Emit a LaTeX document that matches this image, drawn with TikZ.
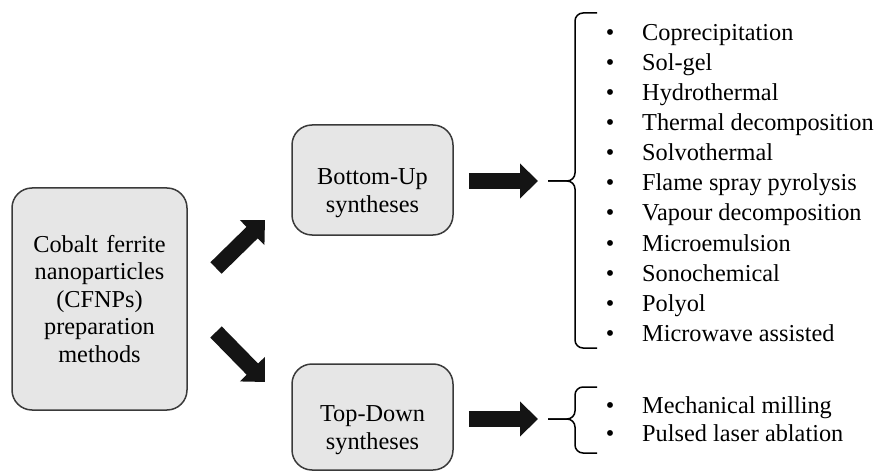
\documentclass[tikz,border=0pt]{standalone}
\usepackage{fontspec}
\setmainfont{Liberation Serif}
\usetikzlibrary{arrows.meta, positioning}
\definecolor{boxfill}{HTML}{E6E6E6}
\definecolor{boxline}{HTML}{3A3A3A}
\tikzset{
box/.style={draw=boxline, fill=boxfill, line width=1.5pt, rounded corners=20pt, align=center, inner sep=0pt}, % the grey method boxes
lowtext/.style={execute at begin node={\rule{0pt}{42pt}}}, % sets the text a bit below the middle of the box
blockarrow/.style={line width=16pt, color=black!92, -{Triangle[length=18pt, width=34pt]}}, % the thick black arrows
brace/.style={line width=1.5pt, rounded corners=8pt}, % the square braces in front of the lists
item/.style={anchor=base west, inner sep=0pt}, % a list entry
dot/.style={anchor=base, inner sep=0pt}, % the bullet of a list entry
}

\begin{document}
\begin{tikzpicture}[x=1pt, y=-1pt]
\fontsize{24.3}{27.5}\selectfont
\useasboundingbox (0,0) rectangle (883,473);

\node[box, minimum width=175pt, minimum height=222pt, text width=170pt] at (99.5,299) (cfnp) {Cobalt ferrite\\nanoparticles\\(CFNPs)\\preparation\\methods};
\node[box, lowtext, minimum width=161pt, minimum height=110pt, text width=155pt] at (372.5,180) (bu) {Bottom-Up\\syntheses};
\node[box, lowtext, minimum width=161pt, minimum height=106pt, text width=155pt] at (372.5,417) (td) {Top-Down\\syntheses};

% the two arrows leaving the left box
\coordinate (up0) at (216,268);
\coordinate (up1) at (265,220);
\coordinate (down0) at (216,332);
\coordinate (down1) at (265,382);
\draw[blockarrow] (up0) -- (up1);
\draw[blockarrow] (down0) -- (down1);

% braces
\coordinate (bubrace) at (548,181);
\coordinate (tdbrace) at (548,419);
\draw[brace] (597,13) -| (575,181) -- (bubrace);
\draw[brace] (597,348) -| (575,181) -- (bubrace);
\draw[brace] (597,387) -| (575,419) -- (tdbrace);
\draw[brace] (597,453) -| (575,419) -- (tdbrace);

\draw[blockarrow, shorten <=15pt, shorten >=10pt] (bu.east |- bubrace) -- (bubrace);
\draw[blockarrow, shorten <=15pt, shorten >=10pt] (td.east |- tdbrace) -- (tdbrace);

% bottom-up methods
\foreach \t [count=\i] in {Coprecipitation, Sol-gel, Hydrothermal, Thermal decomposition, Solvothermal, Flame spray pyrolysis, Vapour decomposition, Microemulsion, Sonochemical, Polyol, Microwave assisted}
{
\node[dot] at (610, 11+30*\i) (budot\i) {•};
\node[item] at (642, 11+30*\i) (bu\i) {\t};
}

% top-down methods
\foreach \t [count=\i] in {Mechanical milling, Pulsed laser ablation}
{
\node[dot] at (610, 385+28*\i) (tddot\i) {•};
\node[item] at (642, 385+28*\i) (td\i) {\t};
}

\end{tikzpicture}
\end{document}
